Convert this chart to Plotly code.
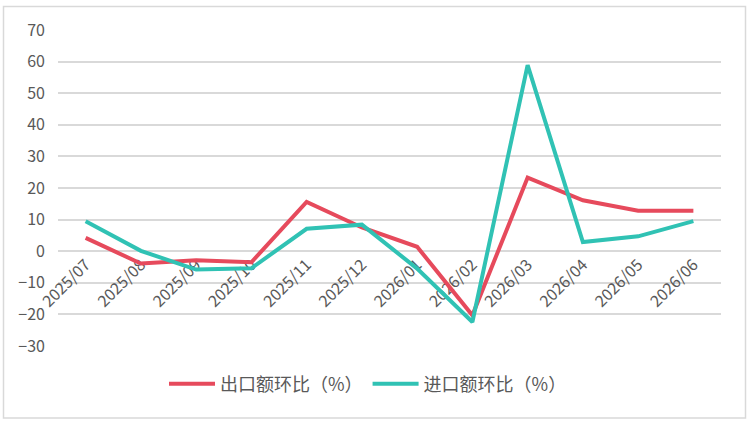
import plotly.graph_objects as go

months = ["2025/07", "2025/08", "2025/09", "2025/10", "2025/11", "2025/12",
          "2026/01", "2026/02", "2026/03", "2026/04", "2026/05", "2026/06"]
export_mom = [4.2, -3.9, -2.9, -3.5, 15.6, 7.5, 1.4, -20.3, 23.3, 16.1, 12.8, 12.8]
import_mom = [9.5, 0.1, -5.8, -5.4, 7.1, 8.4, -5.5, -22.4, 58.9, 2.9, 4.7, 9.5]
series_names = ["出口额环比（%）", "进口额环比（%）"]
y_ticks = [-30, -20, -10, 0, 10, 20, 30, 40, 50, 60, 70]

RED = "#E64A5C"
TEAL = "#30C2B4"
GRID = "#D9D9D9"
TXT = "#595959"
FONT = "Noto Sans CJK SC"

fig = go.Figure()
fig.add_trace(go.Scatter(x=months, y=export_mom, mode="lines", name=series_names[0],
                         line=dict(color=RED, width=4)))
fig.add_trace(go.Scatter(x=months, y=import_mom, mode="lines", name=series_names[1],
                         line=dict(color=TEAL, width=4)))

W, H = 751, 424
L, R, T, B = 58, 30, 30, 78
pw, ph = W - L - R, H - T - B

def px_x(x):
    return (x - L) / pw

def px_y(y):
    return (H - B - y) / ph

fig.update_layout(
    width=W, height=H,
    margin=dict(l=L, r=R, t=T, b=B),
    paper_bgcolor="white", plot_bgcolor="white",
    font=dict(family=FONT, size=14, color=TXT),
    showlegend=True,
    legend=dict(orientation="h", x=px_x(368), xanchor="center", y=px_y(384), yanchor="middle",
                font=dict(family=FONT, size=18, color=TXT), itemwidth=46,
                bgcolor="rgba(0,0,0,0)"),
    xaxis=dict(type="category", anchor="free", position=0.3, layer="below traces",
               tickangle=-45, showgrid=False, showline=False, ticks="",
               tickfont=dict(family=FONT, size=16, color=TXT), range=[-0.5, 11.5]),
    yaxis=dict(range=[-30, 70], tickvals=y_ticks, showgrid=True, gridcolor=GRID, gridwidth=1.5,
               zeroline=False, showline=False, ticks="", ticklabelstandoff=12,
               tickfont=dict(family=FONT, size=16, color=TXT)),
    shapes=[dict(type="rect", xref="paper", yref="paper",
                 x0=px_x(3.5), x1=px_x(745.5), y0=px_y(418), y1=px_y(6.5),
                 line=dict(color=GRID, width=1.5), fillcolor="rgba(0,0,0,0)", layer="below")],
)

fig.write_html("out.html")
